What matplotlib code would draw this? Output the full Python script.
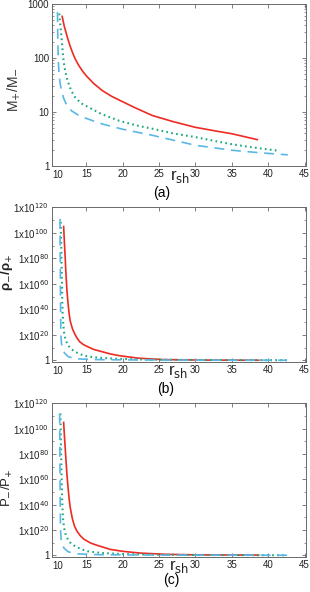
import numpy as np
import matplotlib
matplotlib.use("Agg")
import matplotlib.pyplot as plt
from matplotlib.ticker import FixedLocator, NullFormatter

plt.rcParams['font.family'] = ['Liberation Sans', 'DejaVu Sans']

# ---- panel (a): M+/M- ----
a_red_x = [11.7, 11.85, 12.0, 12.25, 12.5, 12.8, 13.1, 13.5, 14.0, 14.5, 15.0, 16.0, 17.2, 18.5, 20.0, 22.0, 24.1, 27.0, 30.0, 33.0, 35.0, 38.5]
a_red_y = [590, 470, 380, 290, 220, 165, 128, 95, 72, 57, 47, 34, 25, 19.5, 15.5, 11.5, 8.6, 6.6, 5.2, 4.4, 3.96, 3.08]
a_grn_x = [11.3, 11.45, 11.6, 11.75, 11.9, 12.1, 12.4, 12.7, 13.0, 13.5, 14.3, 15.4, 17.0, 19.5, 22.0, 24.1, 27.0, 30.0, 33.0, 35.0, 38.0, 41.6]
a_grn_y = [665, 400, 250, 140, 87, 58, 40, 30, 24, 18.5, 14.5, 12.1, 9.3, 6.9, 5.6, 4.9, 4.0, 3.43, 2.85, 2.53, 2.2, 1.9]
a_blu_x = [11.05, 11.08, 11.12, 11.17, 11.25, 11.4, 11.6, 11.9, 12.2, 12.6, 13.0, 14.0, 15.5, 17.2, 20.0, 24.1, 27.0, 30.0, 35.0, 39.0, 42.7]
a_blu_y = [710, 350, 160, 87, 55, 35, 25, 18, 14.5, 12, 10.5, 8.6, 7.2, 6.0, 4.8, 3.7, 3.0, 2.42, 1.96, 1.75, 1.61]

# ---- panel (b): rho-/rho+  (values given as exponents of 10) ----
b_red_x = [11.9, 12.0, 12.1, 12.2, 12.35, 12.5, 12.65, 12.8, 13.1, 13.4, 13.75, 14.1, 14.6, 15.2, 16.0, 17.1, 18.2, 19.4, 20.8, 22.2, 25.4, 30.9, 38.7]
b_red_e = [105, 93, 82, 70, 55, 45, 37, 31, 25, 21, 17.5, 14.7, 12.5, 10.8, 8.7, 7.0, 5.3, 3.9, 2.8, 1.8, 0.7, 0.3, 0.2]
b_grn_x = [11.5, 11.55, 11.6, 11.65, 11.7, 11.75, 11.85, 12.0, 12.25, 12.5, 12.9, 13.4, 14.2, 15.2, 17.0, 19.4, 23.0, 30.0, 42.6]
b_grn_e = [108.6, 95, 80, 65, 50, 38, 28, 20, 15, 12, 9.2, 7.0, 4.8, 3.1, 2.0, 1.3, 0.7, 0.4, 0.2]
b_blu_x = [11.4, 11.42, 11.45, 11.48, 11.52, 11.6, 11.75, 12.0, 12.5, 13.1, 13.8, 15.0, 17.1, 25.0, 42.6]
b_blu_e = [111, 90, 65, 40, 20, 13.5, 9.6, 6.0, 3.1, 2.0, 1.3, 0.9, 0.6, 0.3, 0.2]

# ---- panel (c): P-/P+ ----
c_red_x = [11.9, 12.0, 12.1, 12.2, 12.35, 12.5, 12.65, 12.8, 13.1, 13.4, 13.75, 14.2, 14.7, 15.6, 16.5, 18.3, 20.0, 22.4, 26.0, 30.0, 38.7]
c_red_e = [105, 95, 86, 77, 64, 54, 45, 38, 29, 23, 19, 15.5, 12.8, 9.8, 8.0, 4.8, 3.3, 1.9, 0.9, 0.5, 0.3]
c_grn_x = [11.45, 11.5, 11.55, 11.6, 11.65, 11.72, 11.8, 11.95, 12.2, 12.5, 12.9, 13.5, 14.3, 15.2, 17.0, 19.4, 23.0, 30.0, 42.6]
c_grn_e = [112, 97, 82, 67, 53, 40, 30, 22, 16, 12.5, 9.5, 7.2, 5.0, 3.3, 2.0, 1.3, 0.7, 0.4, 0.2]
c_blu_x = [11.35, 11.37, 11.4, 11.43, 11.47, 11.55, 11.7, 11.95, 12.5, 13.1, 13.8, 15.0, 17.1, 25.0, 42.6]
c_blu_e = [112, 90, 65, 40, 20, 13, 9.0, 5.8, 3.0, 2.0, 1.3, 0.9, 0.6, 0.3, 0.2]

xticks = [15, 20, 25, 30, 35, 40, 45]
big_ticks = [0, 20, 40, 60, 80, 100, 120]

RED = '#ee2b22'
GRN = '#19a97c'
BLU = '#5ab8e6'
EDGE = '#6a6a6a'
TXT = '#222222'

fig = plt.figure(figsize=(3.10, 5.92), dpi=100)
L, W = 52 / 310, 254 / 310


def box(top, bot):
    return [L, 1 - bot / 592, W, (bot - top) / 592]


def style(ax):
    ax.set_xlim(10.3, 45.2)
    ax.set_xticks(xticks)
    ax.tick_params(which='both', direction='in', top=True, right=True,
                   labelsize=7, colors=EDGE, labelcolor=TXT, pad=2)
    ax.tick_params(which='major', length=3, width=0.6)
    ax.tick_params(which='minor', length=1.5, width=0.5)
    for s in ax.spines.values():
        s.set_color(EDGE)
        s.set_linewidth(0.7)
    # the "10" label sits just inside the left edge
    ax.annotate('10', xy=(0, 0), xycoords='axes fraction', xytext=(0.5, -3.2),
                textcoords='offset points', ha='left', va='top', fontsize=7, color=TXT)


def curves(ax, rx, ry, gx, gy, bx, by):
    ax.plot(rx, ry, color=RED, lw=1.2, solid_joinstyle='round')
    ax.plot(gx, gy, color=GRN, lw=1.5, linestyle=(0, (0.8, 1.6)))
    ax.plot(bx, by, color=BLU, lw=1.2, linestyle=(0, (6, 4)))


def xlab(ax, xpos, ypos):
    ax.text(xpos, ypos, r'r$_{\rm sh}$', transform=ax.transAxes, ha='center',
            va='top', fontsize=12, color=TXT)


# (a)
ax1 = fig.add_axes(box(4, 166))
curves(ax1, a_red_x, a_red_y, a_grn_x, a_grn_y, a_blu_x, a_blu_y)
ax1.set_yscale('log')
ax1.set_ylim(1, 1000)
ax1.set_yticks([1, 10, 100, 1000])
ax1.set_yticklabels(['1', '10', '100', '1000'])
style(ax1)
ax1.set_ylabel(r'M$_{+}$/M$_{-}$', fontsize=10, color='#333333')
ax1.yaxis.set_label_coords(-0.115, 0.47)
xlab(ax1, 0.505, -0.01)
fig.text(162 / 310, 1 - 193 / 592, '(a)', ha='center', va='center', fontsize=10)


def big_panel(top, bot, rx, re_, gx, ge, bx, be, ylab, bold, lab, labpos, xlabpos):
    ax = fig.add_axes(box(top, bot))
    curves(ax, rx, 10.0 ** np.array(re_), gx, 10.0 ** np.array(ge),
           bx, 10.0 ** np.array(be))
    ax.set_yscale('log')
    ax.set_ylim(10 ** -1.2, 10 ** 120.3)
    ax.yaxis.set_major_locator(FixedLocator([10.0 ** e for e in big_ticks]))
    ax.yaxis.set_minor_locator(FixedLocator([10.0 ** e for e in range(10, 120, 20)]))
    ax.yaxis.set_minor_formatter(NullFormatter())
    ax.set_yticklabels(['1'] + [r'1x10$^{%d}$' % e for e in big_ticks[1:]])
    style(ax)
    ax.set_ylabel(ylab, fontsize=9.5, color=TXT,
                  fontweight='bold' if bold else 'normal')
    ax.yaxis.set_label_coords(-0.145, labpos)
    xlab(ax, xlabpos, -0.008)
    fig.text(lab[0] / 310, 1 - lab[1] / 592, lab[2], ha='center', va='center', fontsize=10)
    return ax


big_panel(207, 362, b_red_x, b_red_e, b_grn_x, b_grn_e, b_blu_x, b_blu_e,
          r'ρ$_{-}$/ρ$_{+}$', True, (166, 389, '(b)'), 0.58, 0.495)
big_panel(403, 557, c_red_x, c_red_e, c_grn_x, c_grn_e, c_blu_x, c_blu_e,
          r'P$_{-}$/P$_{+}$', False, (171, 580, '(c)'), 0.45, 0.5)

fig.savefig('out.png', dpi=100)
